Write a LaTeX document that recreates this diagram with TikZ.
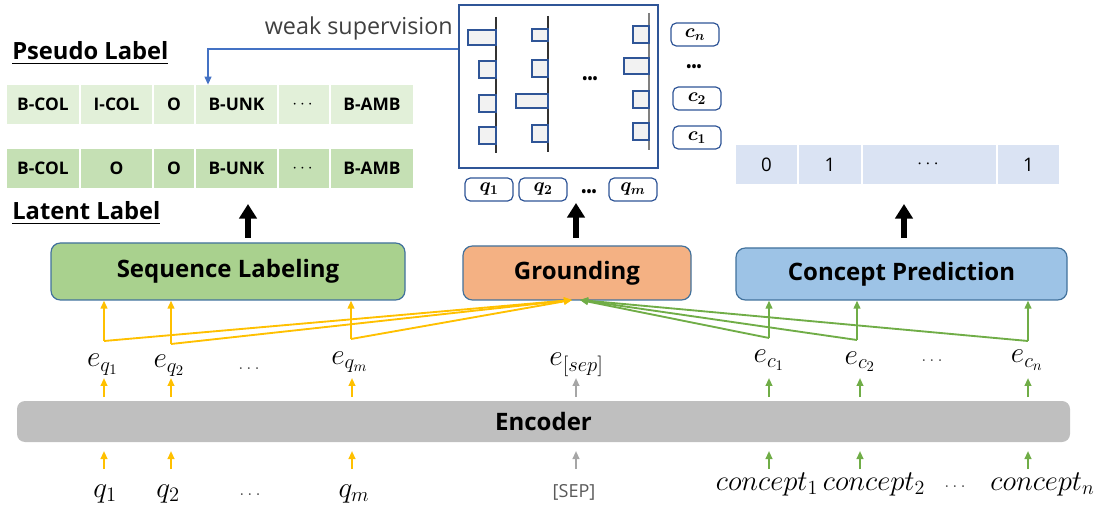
\RequirePackage{fix-cm}
\documentclass[tikz,border=0pt]{standalone}
\usepackage{amsmath}
\usepackage{bm}
\usepackage{fontspec}
\setmainfont{Open Sans}
\usetikzlibrary{arrows.meta}
\definecolor{yel}{HTML}{FFC000}
\definecolor{grn}{HTML}{70AD47}
\definecolor{gry}{HTML}{A6A6A6}
\definecolor{bord}{HTML}{41719C}
\definecolor{barb}{HTML}{2F5597}
\definecolor{seqf}{HTML}{A9D18E}
\definecolor{grdf}{HTML}{F4B183}
\definecolor{conf}{HTML}{9DC3E6}
\definecolor{encf}{HTML}{BFBFBF}
\definecolor{psf}{HTML}{E2F0D9}
\definecolor{ltf}{HTML}{C5E0B4}
\definecolor{outf}{HTML}{DAE3F3}
\definecolor{wsb}{HTML}{4472C4}
\definecolor{txtg}{HTML}{404040}
\begin{document}
\begin{tikzpicture}[x=0.75pt,y=-0.75pt,
  pxsize/.style 2 args={minimum width=#1*0.75pt, minimum height=#2*0.75pt},
  module/.style={draw=bord, line width=0.9pt, rounded corners=7pt, inner sep=0pt, font=\fontsize{18}{21}\selectfont\bfseries},
  cellbase/.style={inner sep=0pt, font=\fontsize{13}{15}\selectfont\bfseries},
  pcell/.style={cellbase, fill=psf},
  lcell/.style={cellbase, fill=ltf},
  ocell/.style={inner sep=0pt, fill=outf, font=\fontsize{14}{16}\selectfont},
  tok/.style={draw=barb, line width=0.9pt, fill=white, rounded corners=4pt, inner sep=0pt, pxsize={48}{23}, font=\fontsize{14.5}{16}\selectfont},
  bar/.style={draw=barb, line width=1pt, fill=black!5},
  axis/.style={line width=1pt, draw=black!80},
  heading/.style={anchor=west, inner sep=0pt, font=\fontsize{17.8}{22}\selectfont\bfseries},
  mlab/.style={inner sep=0pt, anchor=base, font=\fontsize{22}{24}\selectfont},
  clab/.style={inner sep=0pt, anchor=base, font=\fontsize{21.5}{24}\selectfont},
  sdots/.style={inner sep=0pt, anchor=base, text=black!75, font=\fontsize{14}{16}\selectfont},
  yar/.style={draw=yel, line width=1.4pt, -{Triangle[length=6pt,width=5pt]}},
  gar/.style={draw=grn, line width=1.4pt, -{Triangle[length=6pt,width=5pt]}},
  sar/.style={draw=gry, line width=1.4pt, -{Triangle[length=6pt,width=5pt]}},
  big/.style={draw=black, line width=4.5pt, -{Triangle[length=11pt,width=13pt]}},
  bdots/.style={inner sep=0pt, font=\fontsize{10}{12}\selectfont\bfseries}
]
\path[use as bounding box] (0,0) rectangle (1099,509);

% headings
\node[heading] (pl) at (12,53) {\underline{Pseudo Label}};
\node[heading] (ll) at (12,213) {\underline{Latent Label}};

% pseudo label row
\node[pcell, pxsize={72}{39}] (p1) at (43,104.5) {B-COL};
\node[pcell, pxsize={71}{39}] (p2) at (116.5,104.5) {I-COL};
\node[pcell, pxsize={40}{39}] (p3) at (174,104.5) {O};
\node[pcell, pxsize={81}{39}] (p4) at (236.5,104.5) {B-UNK};
\node[pcell, pxsize={50}{39}] (p5) at (304,104.5) {$\cdots$};
\node[pcell, pxsize={82}{39}] (p6) at (372,104.5) {B-AMB};
% latent label row
\node[lcell, pxsize={72}{39}] (l1) at (43,168.5) {B-COL};
\node[lcell, pxsize={71}{39}] (l2) at (116.5,168.5) {O};
\node[lcell, pxsize={40}{39}] (l3) at (174,168.5) {O};
\node[lcell, pxsize={81}{39}] (l4) at (236.5,168.5) {B-UNK};
\node[lcell, pxsize={50}{39}] (l5) at (304,168.5) {$\cdots$};
\node[lcell, pxsize={82}{39}] (l6) at (372,168.5) {B-AMB};

% grounding chart
\node[draw=barb, line width=1.1pt, inner sep=0pt, pxsize={199}{163}] (chart) at (558.5,86.5) {};
\draw[axis] (496,17) -- (496,153);
\draw[bar] (468,30) rectangle (496,45);
\draw[bar] (479,61) rectangle (496,78);
\draw[bar] (479,95) rectangle (496,112);
\draw[bar] (479,127) rectangle (496,144);
\draw[axis] (548,16) -- (548,152);
\draw[bar] (532,29) rectangle (548,41);
\draw[bar] (532,60) rectangle (548,77);
\draw[bar] (516,94) rectangle (548,108);
\draw[bar] (532,125) rectangle (548,142);
\draw[line width=1.6pt, draw=black!50] (649,13) -- (649,150);
\draw[bar] (633,26) rectangle (649,43);
\draw[bar] (624,58) rectangle (649,74);
\draw[bar] (633,91) rectangle (649,108);
\draw[bar] (633,123) rectangle (649,140);
\node[bdots] (cd) at (590,80) {\textbullet\textbullet\textbullet};

% token boxes
\node[tok] (tq1) at (489,189.5) {$\bm{q_1}$};
\node[tok] (tq2) at (543,189.5) {$\bm{q_2}$};
\node[bdots] (tqd) at (589,193) {\textbullet\textbullet\textbullet};
\node[tok] (tqm) at (633,189.5) {$\bm{q_m}$};
\node[tok] (tcn) at (695,34.5) {$\bm{c_n}$};
\node[bdots] (tcd) at (694,68) {\textbullet\textbullet\textbullet};
\node[tok] (tc2) at (697,98.5) {$\bm{c_2}$};
\node[tok] (tc1) at (697,137.5) {$\bm{c_1}$};

% weak supervision
\node[anchor=east, inner sep=0pt, text=txtg, font=\fontsize{17.5}{20}\selectfont] (ws) at (453,28) {weak supervision};
\coordinate (wsc) at (208,49);
\draw[draw=wsb, line width=1.3pt, -{Triangle[length=6pt,width=5pt]}] (chart.west |- wsc) -- (wsc) -- (p4.north -| wsc);

% concept output row
\node[ocell, pxsize={61}{39}] (o1) at (766.5,164.5) {0};
\node[ocell, pxsize={62}{39}] (o2) at (830,164.5) {1};
\node[ocell, pxsize={133}{39}] (o3) at (929.5,164.5) {$\cdots$};
\node[ocell, pxsize={61}{39}] (o4) at (1028.5,164.5) {1};

% modules
\node[module, fill=seqf, pxsize={354}{57}] (seq) at (228,271.5) {Sequence Labeling};
\node[module, fill=grdf, pxsize={228}{54}] (grd) at (577,273) {Grounding};
\node[module, fill=conf, pxsize={331}{52}] (con) at (901.5,274) {Concept Prediction};

% big arrows
\draw[big] (248,238) -- (248,204);
\draw[big] (576,238) -- (576,203);
\draw[big] (904,238) -- (904,204);

% encoder
\node[fill=encf, rounded corners=6pt, inner sep=0pt, pxsize={1053}{41}, font=\fontsize{18}{21}\selectfont\bfseries] (enc) at (543.5,421.5) {Encoder};

% embedding labels
\node[mlab] (eq1) at (102.5,367) {$e_{q_1}$};
\node[mlab] (eq2) at (169,368) {$e_{q_2}$};
\node[sdots] (eqd) at (249,370) {$\ldots$};
\node[mlab] (eqm) at (349.5,364) {$e_{q_m}$};
\node[mlab] (esep) at (576.5,366) {$e_{[sep]}$};
\node[mlab] (ec1) at (769,363) {$e_{c_1}$};
\node[mlab] (ec2) at (860,364) {$e_{c_2}$};
\node[sdots] (ecd) at (932,362) {$\ldots$};
\node[mlab] (ecn) at (1027,363) {$e_{c_n}$};

% input labels
\node[mlab] (q1) at (105,497) {$q_1$};
\node[mlab] (q2) at (168,497) {$q_2$};
\node[sdots] (qd) at (250,495) {$\ldots$};
\node[mlab] (qm) at (354,497) {$q_m$};
\node[inner sep=0pt, text=black!65, font=\fontsize{13.5}{15}\selectfont] (sep) at (574,492) {[SEP]};
\node[clab] (c1) at (767,490) {$concept_1$};
\node[clab] (c2) at (874,490) {$concept_2$};
\node[sdots] (cd2) at (955,487) {$\ldots$};
\node[clab] (cn) at (1042.5,490) {$concept_n$};

% encoder output / input arrows
\coordinate (gy) at (572,300);
\coordinate (gg) at (580,300);
\foreach \x/\s in {104/yar, 171/yar, 352/yar, 576/sar, 769/gar, 860/gar, 1028/gar}{
  \draw[\s] (\x,397) -- (\x,378);
  \draw[\s] (\x,469) -- (\x,451);
}

% yellow fan-out
\coordinate (ya) at (104,341);
\coordinate (yb) at (171,344);
\coordinate (yc) at (351,339);
\foreach \c in {ya,yb,yc}{
  \draw[yar] (\c) -- (\c |- seq.south);
  \draw[yar] (\c) -- (gy);
}
% green fan-out
\coordinate (ga) at (769,338);
\coordinate (gb) at (857,340);
\coordinate (gc) at (1028,341);
\foreach \c in {ga,gb,gc}{
  \draw[gar] (\c) -- (\c |- con.south);
  \draw[gar] (\c) -- (gg);
}
\end{tikzpicture}
\end{document}
